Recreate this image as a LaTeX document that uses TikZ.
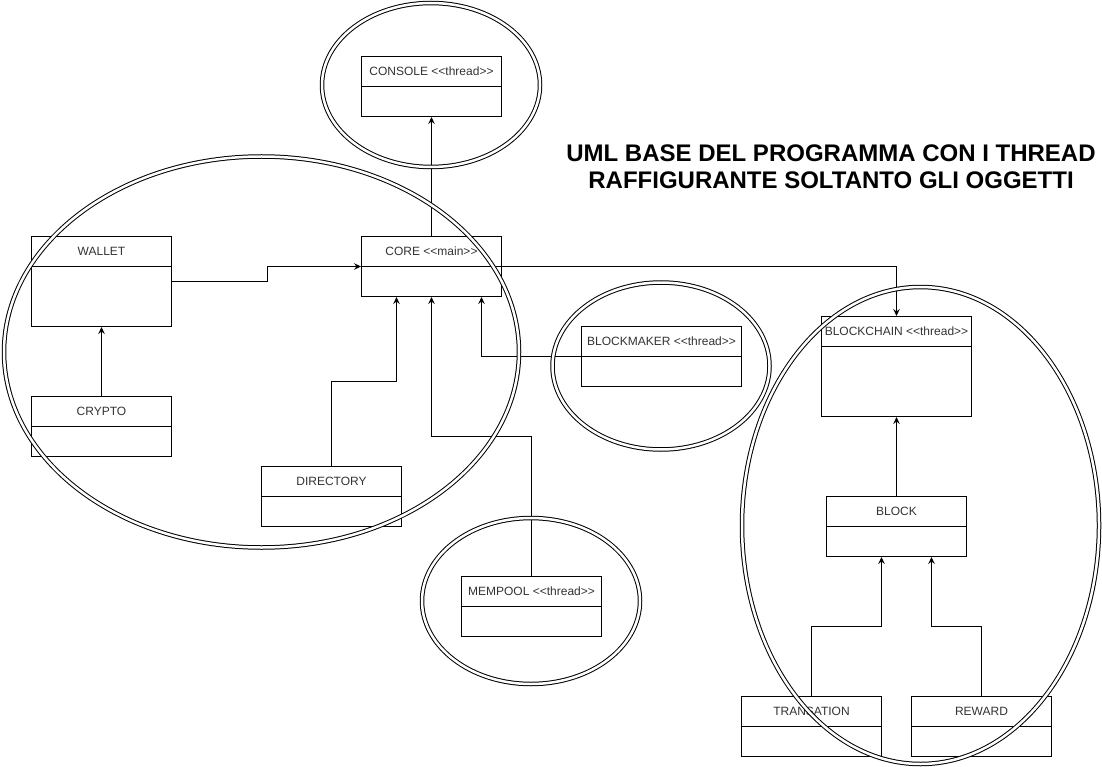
\documentclass[tikz,border=0pt]{standalone}
\usepackage{fontspec}
\setmainfont{Liberation Sans}[Ligatures=TeXOff]
\usepackage{xcolor}
\usepackage{tikz}
\usetikzlibrary{arrows.meta,positioning}
\definecolor{txt}{RGB}{51,51,51}

\tikzset{
  classbox/.style={draw,fill=white,line width=1pt,anchor=north west,
    minimum width=140pt,minimum height=60pt,inner sep=0pt,
    path picture={\draw[line width=1pt] ([yshift=-30pt]path picture bounding box.north west) -- ([yshift=-30pt]path picture bounding box.north east);},
    label={[anchor=center,yshift=-15pt,font=\fontsize{12}{14}\selectfont,text=txt]north:#1}},
  arr/.style={line width=1pt,-{Stealth[length=7pt,width=6.5pt,inset=2.5pt]}},
  group/.style={line width=1pt,double,double distance=2.5pt}
}
\newcommand{\thr}{<<thread>>}

\begin{document}
\begin{tikzpicture}[x=1pt,y=-1pt]
  \useasboundingbox (0,0) rectangle (1102,767);
  % classes
  \node[classbox={CONSOLE \thr}] (console) at (361,56) {};
  \node[classbox={CORE <<main>>}] (core) at (361,236) {};
  \node[classbox=WALLET,minimum height=90pt] (wallet) at (31,236) {};
  \node[classbox=CRYPTO] (crypto) at (31,396) {};
  \node[classbox=DIRECTORY] (directory) at (261,466) {};
  \node[classbox={BLOCKMAKER \thr},minimum width=160pt] (blockmaker) at (581,326) {};
  \node[classbox={MEMPOOL \thr}] (mempool) at (461,576) {};
  \node[classbox={BLOCKCHAIN \thr},minimum width=150pt,minimum height=100pt] (blockchain) at (821,316) {};
  \node[classbox=BLOCK] (block) at (826,496) {};
  \node[classbox=TRANSATION] (transation) at (741,696) {};
  \node[classbox=REWARD] (reward) at (911,696) {};

  \node[font=\bfseries\fontsize{24}{27}\selectfont,align=center] (title) at (831,167)
    {UML BASE DEL PROGRAMMA CON I THREAD\\RAFFIGURANTE SOLTANTO GLI OGGETTI};

  % links
  \draw[arr] (core) -- (console);
  \draw[arr] (wallet.east) -- ++(95,0) |- (core.west);
  \draw[arr] (crypto) -- (wallet);
  \draw[arr] (directory.north) -- ++(0,-85) -| ([xshift=-35pt]core.south);
  \draw[arr] (mempool.north) -- ++(0,-140) -| (core.south);
  \draw[arr] (blockmaker.west) -| ([xshift=50pt]core.south);
  \draw[arr] (core.east) -| (blockchain.north);
  \draw[arr] (block) -- (blockchain);
  \draw[arr] (transation.north) -- ++(0,-70) -| ([xshift=-15pt]block.south);
  \draw[arr] (reward.north) -- ++(0,-70) -| ([xshift=35pt]block.south);

  % thread groups
  \draw[group] (431,85) ellipse [x radius=109,y radius=82];
  \draw[group] (261.5,352) ellipse [x radius=257.5,y radius=195.5];
  \draw[group] (661,366) ellipse [x radius=108.5,y radius=83.5];
  \draw[group] (531,601) ellipse [x radius=109,y radius=83];
  \draw[group] (920.5,525.5) ellipse [x radius=178.5,y radius=238.5];
\end{tikzpicture}
\end{document}
